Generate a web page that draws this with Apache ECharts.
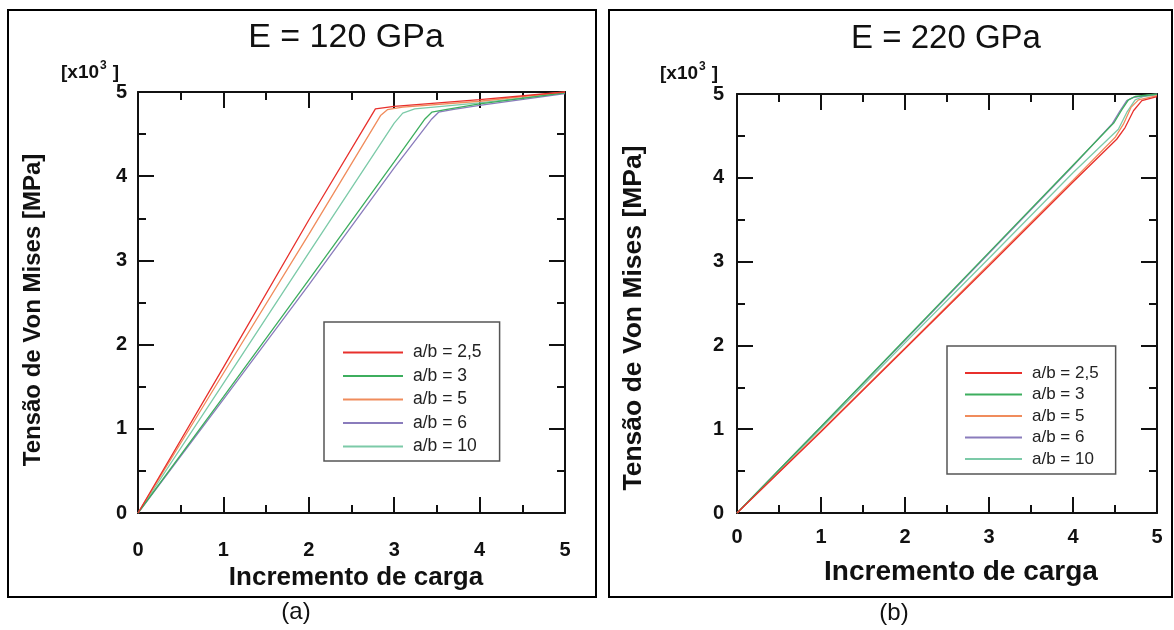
<!DOCTYPE html>
<html>
<head>
<meta charset="utf-8">
<script src="https://cdn.jsdelivr.net/npm/echarts@6/dist/echarts.min.js"></script>
<style>
  html, body { margin: 0; padding: 0; background: #fff; }
  #chart { width: 1174px; height: 630px; }
</style>
</head>
<body>
<div id="chart"></div>
<script>
// Series names (aspect ratio a/b)
const seriesNames = ['a/b = 2,5', 'a/b = 3', 'a/b = 5', 'a/b = 6', 'a/b = 10'];
const seriesColors = ['#e8302c', '#3dae5e', '#f08c5c', '#8a7cbc', '#7ccaa8'];

// Axis ticks (load increment, Von Mises stress in 10^3 MPa)
const xTicks = [0, 1, 2, 3, 4, 5];
const yTicks = [0, 1, 2, 3, 4, 5];

// (a) E = 120 GPa : [load increment, stress x10^3 MPa]
const e120_ab2_5 = [[0, 0], [1.0, 1.73], [2.0, 3.48], [2.78, 4.80], [3.0, 4.83], [4.0, 4.91], [5, 5.0]];
const e120_ab3   = [[0, 0], [1.0, 1.38], [2.0, 2.77], [3.0, 4.17], [3.36, 4.68], [3.44, 4.76], [3.6, 4.79], [4.0, 4.86], [5, 4.99]];
const e120_ab5   = [[0, 0], [1.0, 1.66], [2.0, 3.31], [2.84, 4.72], [2.92, 4.79], [3.1, 4.82], [4.0, 4.89], [5, 5.0]];
const e120_ab6   = [[0, 0], [1.0, 1.35], [2.0, 2.71], [3.0, 4.10], [3.44, 4.68], [3.52, 4.76], [3.68, 4.79], [4.0, 4.84], [5, 4.98]];
const e120_ab10  = [[0, 0], [1.0, 1.54], [2.0, 3.09], [3.0, 4.63], [3.1, 4.75], [3.24, 4.80], [4.0, 4.87], [5, 4.99]];

// (b) E = 220 GPa
const e220_ab2_5 = [[0, 0], [1.0, 0.97], [2.0, 1.96], [3.0, 2.95], [4.0, 3.95], [4.52, 4.46], [4.62, 4.60], [4.72, 4.80], [4.82, 4.92], [5, 4.97]];
const e220_ab3   = [[0, 0], [1.0, 1.03], [2.0, 2.07], [3.0, 3.11], [4.0, 4.15], [4.49, 4.66], [4.58, 4.81], [4.66, 4.93], [4.74, 4.97], [5, 5.0]];
const e220_ab5   = [[0, 0], [1.0, 0.98], [2.0, 1.97], [3.0, 2.97], [4.0, 3.97], [4.50, 4.48], [4.60, 4.64], [4.69, 4.84], [4.78, 4.93], [5, 4.98]];
const e220_ab6   = [[0, 0], [1.0, 1.03], [2.0, 2.06], [3.0, 3.10], [4.0, 4.14], [4.47, 4.65], [4.56, 4.80], [4.64, 4.92], [4.72, 4.96], [5, 5.0]];
const e220_ab10  = [[0, 0], [1.0, 1.01], [2.0, 2.03], [3.0, 3.04], [4.0, 4.06], [4.54, 4.58], [4.64, 4.78], [4.74, 4.93], [4.84, 4.97], [5, 4.99]];

const panelA = [e120_ab2_5, e120_ab3, e120_ab5, e120_ab6, e120_ab10];
const panelB = [e220_ab2_5, e220_ab3, e220_ab5, e220_ab6, e220_ab10];

const FONT = '"Liberation Sans", Arial, Helvetica, sans-serif';

function mainAxis(gridIndex, position, labelMargin, showLabel, ticks) {
  return {
    type: 'value', gridIndex: gridIndex, position: position,
    min: 0, max: 5, interval: 1,
    axisLine: { show: true, onZero: false, lineStyle: { color: '#111', width: 2 } },
    axisTick: { show: true, inside: true, length: 16, lineStyle: { color: '#111', width: 2 } },
    minorTick: { show: true, splitNumber: 2, length: 8, lineStyle: { color: '#111', width: 2 } },
    splitLine: { show: false },
    axisLabel: {
      show: showLabel, margin: labelMargin, color: '#111',
      fontFamily: FONT, fontWeight: 'bold', fontSize: 20,
      formatter: function (v) { return ticks.indexOf(v) >= 0 ? String(v) : ''; }
    }
  };
}

function buildSeries(panel, xi, yi) {
  return panel.map(function (data, i) {
    return {
      name: seriesNames[i], type: 'line', xAxisIndex: xi, yAxisIndex: yi,
      data: data, showSymbol: false, symbol: 'none', smooth: false,
      lineStyle: { color: seriesColors[i], width: 1.3 },
      itemStyle: { color: seriesColors[i] },
      z: 10 - i
    };
  });
}

function legendAt(left, top, padding, itemWidth, itemGap, fontSize) {
  return {
    orient: 'vertical', left: left, top: top,
    data: seriesNames, icon: 'rect', itemWidth: itemWidth, itemHeight: 2,
    itemGap: itemGap, padding: padding,
    borderColor: '#555', borderWidth: 1.5, backgroundColor: '#fff',
    selectedMode: false,
    textStyle: { fontFamily: FONT, fontSize: fontSize, color: '#222', lineHeight: 17, padding: [0, 0, 0, 5] }
  };
}

function txt(x, y, text, size, weight, rot) {
  return {
    type: 'text', x: x, y: y, rotation: rot || 0, z: 100,
    style: {
      text: text, fill: '#111', fontFamily: FONT, fontSize: size, fontWeight: weight,
      textAlign: 'center', textVerticalAlign: 'middle'
    }
  };
}

function unitLabel(x, y) {
  return {
    type: 'text', x: x, y: y, z: 100,
    style: {
      text: '{b|[x10}{s|3}{b|]}', textAlign: 'left', textVerticalAlign: 'middle',
      rich: {
        b: { fontFamily: FONT, fontSize: 19, fontWeight: 'bold', fill: '#111', verticalAlign: 'bottom' },
        s: { fontFamily: FONT, fontSize: 12, fontWeight: 'bold', fill: '#111', verticalAlign: 'top', padding: [0, 6, 11, 1] }
      }
    }
  };
}

const chart = echarts.init(document.getElementById('chart'), null, { renderer: 'canvas' });

chart.setOption({
  animation: false,
  backgroundColor: '#fff',
  grid: [
    { left: 138, top: 92, width: 427, height: 421 },
    { left: 737, top: 94, width: 420, height: 419 }
  ],
  xAxis: [
    mainAxis(0, 'bottom', 27, true, xTicks),
    mainAxis(0, 'top', 8, false, xTicks),
    mainAxis(1, 'bottom', 14, true, xTicks),
    mainAxis(1, 'top', 8, false, xTicks)
  ],
  yAxis: [
    mainAxis(0, 'left', 11, true, yTicks),
    mainAxis(0, 'right', 8, false, yTicks),
    mainAxis(1, 'left', 13, true, yTicks),
    mainAxis(1, 'right', 8, false, yTicks)
  ],
  legend: [
    legendAt(324, 322, [21.5, 18, 5.5, 19], 60, 5.5, 17.5),
    legendAt(947, 346, [18.5, 17, 6.5, 18], 57, 4.5, 17)
  ],
  series: buildSeries(panelA, 0, 0).concat(buildSeries(panelB, 2, 2)),
  graphic: [
    { type: 'rect', shape: { x: 8, y: 10, width: 588, height: 587 }, style: { fill: 'none', stroke: '#000', lineWidth: 2 }, z: 0 },
    { type: 'rect', shape: { x: 609, y: 10, width: 563, height: 587 }, style: { fill: 'none', stroke: '#000', lineWidth: 2 }, z: 0 },
    txt(346, 38, 'E = 120 GPa', 34, 'normal'),
    txt(946, 39, 'E = 220 GPa', 33, 'normal'),
    unitLabel(61, 71),
    unitLabel(660, 72),
    txt(33, 310, 'Tensão de Von Mises [MPa]', 24, 'bold', Math.PI / 2),
    txt(634, 318, 'Tensão de Von Mises [MPa]', 26.5, 'bold', Math.PI / 2),
    txt(356, 578, 'Incremento de carga', 26, 'bold'),
    txt(961, 572, 'Incremento de carga', 28, 'bold'),
    txt(296, 612, '(a)', 24, 'normal'),
    txt(894, 613, '(b)', 24, 'normal')
  ]
});
</script>
</body>
</html>
